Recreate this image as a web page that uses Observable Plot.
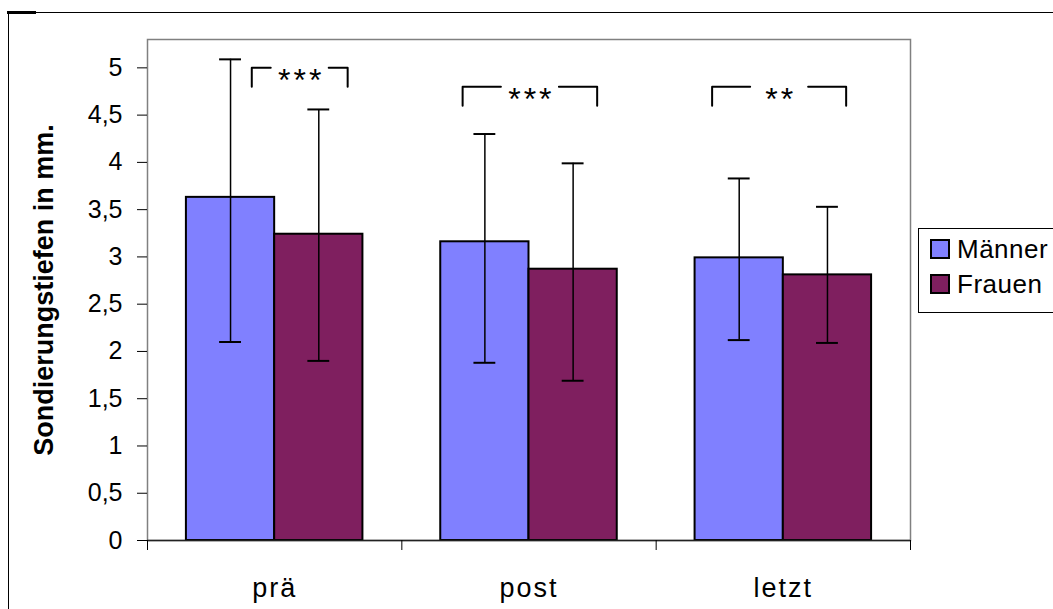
<!DOCTYPE html>
<html>
<head>
<meta charset="utf-8">
<script src="https://cdn.jsdelivr.net/npm/d3@7"></script>
<script src="https://cdn.jsdelivr.net/npm/@observablehq/plot@0.6"></script>
<style>
  body { margin: 0; background: #fff; }
  #wrap { position: relative; width: 1053px; height: 609px; overflow: hidden; font-family: "Liberation Sans", Arial, sans-serif; }
  #frame { position: absolute; left: 8px; top: 12px; width: 1100px; height: 700px; border-top: 1px solid #000; border-left: 1.5px solid #000; }
  #frameTick { position: absolute; left: 7px; top: 11px; width: 29px; height: 3px; background: #000; }
  #chart { position: absolute; left: 0; top: 0; }
  #legend { position: absolute; left: 918px; top: 228px; width: 170px; height: 83px; border: 1.5px solid #000; background: #fff; }
  .item { position: absolute; left: 11px; height: 26px; display: flex; align-items: center; font-size: 26px; letter-spacing: 0.5px; color: #000; white-space: nowrap; }
  .sw { width: 16px; height: 16px; border: 2px solid #000; margin-right: 7px; }
</style>
</head>
<body>
<div id="wrap">
  <div id="frame"></div>
  <div id="frameTick"></div>
  <div id="chart"></div>
  <div id="legend"></div>
</div>
<script>
// ---- data ----
const categories = ["prä", "post", "letzt"];
const series = ["Männer", "Frauen"];
const maenner = [3.63, 3.16, 2.99];
const frauen = [3.24, 2.87, 2.81];
const maennerLow = [2.10, 1.88, 2.12];
const maennerHigh = [5.09, 4.30, 3.83];
const frauenLow = [1.90, 1.69, 2.09];
const frauenHigh = [4.56, 3.99, 3.53];
const yTicks = [0, 0.5, 1, 1.5, 2, 2.5, 3, 3.5, 4, 4.5, 5];
const yTitle = "Sondierungstiefen in mm.";
const colors = ["#8080ff", "#7f1f5f"];
// significance annotations
const sigCats = ["prä", "post", "letzt"];
const sigLabels = ["***", "***", "**"];
const sigTop = [5.0, 4.8, 4.8];
const sigBottom = [4.8, 4.6, 4.6];
const sigLeft = [0.41, 0.239, 0.22];
const sigRight = [0.787, 0.768, 0.747];

// ---- layout ----
const outer = 0.153, barW = 0.347, cap = 0.043, gapHalf = 0.114;
const vals = [maenner, frauen], lows = [maennerLow, frauenLow], highs = [maennerHigh, frauenHigh];
const rows = categories.flatMap((c, i) => series.map((s, j) => {
  const x1 = i + outer + j * barW, x2 = x1 + barW;
  return {cat: c, ser: s, value: vals[j][i], low: lows[j][i], high: highs[j][i], x1, x2, xc: (x1 + x2) / 2};
}));
const brLines = [];
const brText = [];
sigCats.forEach((c, k) => {
  const i = categories.indexOf(c);
  const L = i + sigLeft[k], R = i + sigRight[k], C = (L + R) / 2;
  brLines.push({id: k + "a", x: L, y: sigBottom[k]}, {id: k + "a", x: L, y: sigTop[k]}, {id: k + "a", x: C - gapHalf, y: sigTop[k]});
  brLines.push({id: k + "b", x: C + gapHalf, y: sigTop[k]}, {id: k + "b", x: R, y: sigTop[k]}, {id: k + "b", x: R, y: sigBottom[k]});
  brText.push({x: C, y: sigTop[k] - 0.135, text: sigLabels[k]});
});

const plot = Plot.plot({
  width: 1053, height: 609,
  marginLeft: 147, marginRight: 143, marginTop: 39, marginBottom: 69,
  style: {fontFamily: "Liberation Sans, Arial, sans-serif", fontSize: "22px", color: "#000", background: "transparent"},
  x: {domain: [0, 3], axis: null},
  y: {domain: [0, 5.3], axis: null},
  color: {domain: series, range: colors},
  marks: [
    Plot.frame({stroke: "#808080", strokeWidth: 1.5}),
    Plot.rectY(rows, {x1: "x1", x2: "x2", y: "value", fill: "ser", stroke: "#000", strokeWidth: 2}),
    Plot.ruleX(rows, {x: "xc", y1: "low", y2: "high", stroke: "#000", strokeWidth: 1.5}),
    Plot.ruleY(rows, {y: "high", x1: d => d.xc - cap, x2: d => d.xc + cap, stroke: "#000", strokeWidth: 2}),
    Plot.ruleY(rows, {y: "low", x1: d => d.xc - cap, x2: d => d.xc + cap, stroke: "#000", strokeWidth: 2}),
    Plot.ruleY([0], {stroke: "#222", strokeWidth: 1.5}),
    Plot.axisY({ticks: yTicks, tickSize: 10, tickPadding: 15, label: null, fontSize: 25, tickFormat: d => String(d).replace(".", ",")}),
    Plot.axisX({ticks: [0, 1, 2, 3], tickSize: 10, label: null, tickFormat: () => ""}),
    Plot.axisX({ticks: [0.5, 1.5, 2.5], tickSize: 0, tickPadding: 37, label: null, fontSize: 27, tickFormat: d => categories[Math.floor(d)]}),
    Plot.line(brLines, {x: "x", y: "y", z: "id", stroke: "#000", strokeWidth: 2}),
    Plot.text(brText, {x: "x", y: "y", text: "text", fontSize: 32, dx: 1.5, fill: "#000"}),
    Plot.text([yTitle], {frameAnchor: "left", textAnchor: "middle", rotate: -90, dx: -103, fontSize: 27, fontWeight: "bold", fill: "#000"})
  ]
});
document.getElementById("chart").appendChild(plot);

d3.select(plot).selectAll("text")
  .filter(function() { return sigLabels.includes(this.textContent); })
  .style("letter-spacing", "3px");
d3.select(plot).selectAll("text")
  .filter(function() { return categories.includes(this.textContent); })
  .style("letter-spacing", "2px");

const leg = document.getElementById("legend");
series.forEach((s, j) => {
  const it = document.createElement("div");
  it.className = "item";
  it.style.top = (j === 0 ? 7 : 42) + "px";
  it.innerHTML = `<div class="sw" style="background:${colors[j]}"></div><span>${s}</span>`;
  leg.appendChild(it);
});
</script>
</body>
</html>
